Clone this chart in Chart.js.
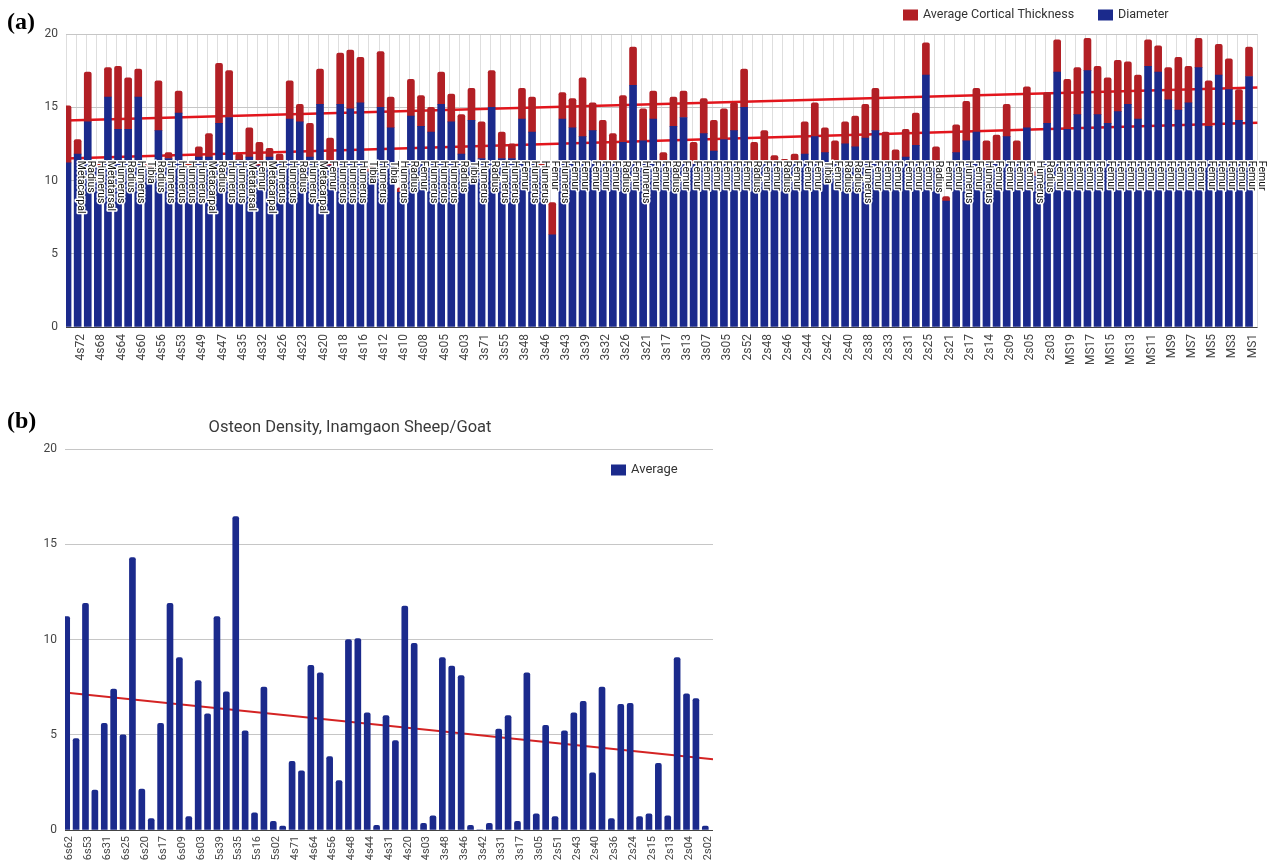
<!DOCTYPE html>
<html>
<head>
<meta charset="utf-8">
<script src="https://cdn.jsdelivr.net/npm/chart.js@4.4.0/dist/chart.umd.min.js"></script>
<style>
  body { margin: 0; background: #fff; width: 1274px; height: 864px; position: relative; overflow: hidden; }
  .panel { position: absolute; font-family: "Liberation Serif", serif; font-weight: bold; font-size: 24px; line-height: 1; color: #000; }
  #wrapA { position: absolute; left: 0; top: 0; width: 1274px; height: 372px; }
  #wrapB { position: absolute; left: 0; top: 410px; width: 740px; height: 454px; }
</style>
</head>
<body>
<div id="wrapA"><canvas id="chart-a"></canvas></div>
<div id="wrapB"><canvas id="chart-b"></canvas></div>
<div class="panel" style="left:7px; top:9px">(a)</div>
<div class="panel" style="left:7px; top:408px">(b)</div>
<script>
/* ---- data (a) ---- */
const samplesA = [
  '4s73','4s72','4s70','4s68','4s66','4s64','4s62','4s60','4s58','4s56',
  '4s55','4s53','4s51','4s49','4s48','4s47','4s40','4s35','4s33','4s32',
  '4s28','4s26','4s24','4s23','4s21','4s20','4s19','4s18','4s17','4s16',
  '4s14','4s12','4s11','4s10','4s09','4s08','4s06','4s05','4s04','4s03',
  '4s01','3s71','3s62','3s55','3s50','3s48','3s47','3s46','3s45','3s43',
  '3s40','3s39','3s35','3s32','3s28','3s26','3s24','3s21','3s19','3s17',
  '3s15','3s13','3s10','3s07','3s06','3s05','3s02','2s52','2s50','2s48',
  '2s47','2s46','2s45','2s44','2s43','2s42','2s41','2s40','2s39','2s38',
  '2s35','2s33','2s32','2s31','2s27','2s25','2s23','2s21','2s19','2s17',
  '2s15','2s14','2s11','2s09','2s07','2s05','2s04','2s03','MS20','MS19',
  'MS18','MS17','MS16','MS15','MS14','MS13','MS12','MS11','MS10','MS9',
  'MS8','MS7','MS6','MS5','MS4','MS3','MS2','MS1'
];
const diameterA = [
  11.2, 11.8, 14.0, 10.9, 15.7, 13.5, 13.5, 15.7, 10.8, 13.4,
  11.5, 14.6, 10.9, 11.6, 11.6, 13.9, 14.3, 11.4, 11.6, 11.0,
  11.6, 11.3, 14.2, 14.0, 11.6, 15.2, 11.0, 15.2, 14.9, 15.3,
  10.6, 15.0, 13.6, 9.2, 14.4, 13.7, 13.3, 15.2, 14.0, 11.8,
  14.1, 11.5, 15.0, 11.5, 11.5, 14.2, 13.3, 10.9, 6.3, 14.2,
  13.6, 13.0, 13.4, 11.1, 11.1, 12.6, 16.5, 12.7, 14.2, 11.1,
  13.7, 14.3, 11.1, 13.2, 12.0, 12.8, 13.4, 15.0, 11.1, 11.1,
  11.1, 11.1, 11.1, 11.8, 13.0, 11.9, 11.1, 12.5, 12.3, 12.9,
  13.4, 11.1, 11.1, 11.6, 12.4, 17.2, 11.1, 8.6, 11.9, 12.7,
  13.3, 11.1, 11.1, 13.0, 11.1, 13.6, 10.3, 13.9, 17.4, 13.5,
  14.5, 17.5, 14.5, 13.9, 14.7, 15.2, 14.2, 17.8, 17.4, 15.5,
  14.8, 15.3, 17.7, 13.7, 17.2, 16.2, 14.1, 17.1
];
const thicknessA = [
  3.9, 1.0, 3.4, 0.3, 2.0, 4.3, 3.5, 1.9, 0.3, 3.4,
  0.4, 1.5, 0.3, 0.7, 1.6, 4.1, 3.2, 0.4, 2.0, 1.6,
  0.6, 0.5, 2.6, 1.2, 2.3, 2.4, 1.9, 3.5, 4.0, 3.1,
  0.35, 3.8, 2.1, 0.3, 2.5, 2.1, 1.7, 2.2, 1.9, 2.7,
  2.2, 2.5, 2.5, 1.8, 1.0, 2.1, 2.4, 0.3, 2.2, 1.8,
  2.0, 4.0, 1.9, 3.0, 2.1, 3.2, 2.6, 2.2, 1.9, 0.8,
  2.0, 1.8, 1.5, 2.4, 2.1, 2.1, 1.9, 2.6, 1.5, 2.3,
  0.6, 0.35, 0.7, 2.2, 2.3, 1.7, 1.6, 1.5, 2.1, 2.3,
  2.9, 2.2, 1.0, 1.9, 2.2, 2.2, 1.2, 0.3, 1.9, 2.7,
  3.0, 1.6, 2.0, 2.2, 1.6, 2.8, 0.3, 2.1, 2.2, 3.4,
  3.2, 2.2, 3.3, 3.1, 3.5, 2.9, 3.0, 1.8, 1.8, 2.2,
  3.6, 2.5, 2.0, 3.1, 2.1, 2.1, 2.1, 2.0
];
const bonesA = [
  'Metacarpal','Radius','Humerus','Metatarsal','Humerus','Radius','Humerus','Tibia','Radius','Humerus',
  'Humerus','Humerus','Humerus','Metacarpal','Radius','Humerus','Humerus','Metatarsal','Femur','Metacarpal',
  'Humerus','Humerus','Radius','Humerus','Metacarpal','Femur','Humerus','Humerus','Humerus','Tibia',
  'Humerus','Tibia','Humerus','Radius','Femur','Humerus','Humerus','Humerus','Radius','Tibia',
  'Humerus','Radius','Humerus','Humerus','Femur','Humerus','Humerus','Femur','Humerus','Femur',
  'Femur','Femur','Femur','Femur','Radius','Femur','Humerus','Femur','Femur','Radius',
  'Femur','Femur','Femur','Femur','Femur','Femur','Femur','Radius','Femur','Femur',
  'Radius','Femur','Femur','Femur','Tibia','Femur','Radius','Radius','Humerus','Femur',
  'Femur','Femur','Femur','Femur','Femur','Radius','Femur','Femur','Humerus','Femur',
  'Humerus','Femur','Femur','Femur','Femur','Humerus','Radius','Femur','Femur','Femur',
  'Femur','Femur','Femur','Femur','Femur','Femur','Femur','Femur','Femur','Femur',
  'Femur','Femur','Femur','Femur','Femur','Femur','Femur','Femur'
];
// trend line ends, read at the left and right edges of the plot
const trendTotalA = [14.1, 16.35];
const trendDiamA = [11.5, 13.95];

/* ---- data (b) ---- */
const samplesB = [
  '6s62','6s58','6s53','6s47','6s31','6s28','6s25','6s22','6s20','6s19',
  '6s17','6s12','6s09','6s05','6s03','5s44','5s39','5s37','5s35','5s22',
  '5s16','5s09','5s02','4s73','4s71','4s68','4s64','4s60','4s56','4s53',
  '4s48','4s47','4s44','4s35','4s31','4s26','4s20','4s12','4s03','3s55',
  '3s48','3s47','3s46','3s43','3s42','3s39','3s31','3s21','3s17','3s13',
  '3s05','2s52','2s51','2s46','2s43','2s42','2s40','2s38','2s36','2s31',
  '2s24','2s21','2s15','2s14','2s13','2s09','2s04','2s03','2s02'
];
const densityB = [
  11.2, 4.8, 11.9, 2.1, 5.6, 7.4, 5.0, 14.3, 2.15, 0.6,
  5.6, 11.9, 9.05, 0.7, 7.85, 6.1, 11.2, 7.25, 16.45, 5.2,
  0.9, 7.5, 0.45, 0.2, 3.6, 3.1, 8.65, 8.25, 3.85, 2.6,
  10.0, 10.05, 6.15, 0.25, 6.0, 4.7, 11.75, 9.8, 0.35, 0.75,
  9.05, 8.6, 8.1, 0.25, 0, 0.35, 5.3, 6.0, 0.45, 8.25,
  0.85, 5.5, 0.7, 5.2, 6.15, 6.75, 3.0, 7.5, 0.6, 6.6,
  6.65, 0.7, 0.85, 3.5, 0.75, 9.05, 7.15, 6.9, 0.2
];
const trendB = [7.22, 3.71];

const blue = '#1b2a8c';
const red = '#b21f25';
const trendRed = '#e2151c';
Chart.defaults.font.family = 'Roboto';
Chart.defaults.animation = false;

const gridY = c => (c.tick && c.tick.value === 0) ? '#444' : '#c6c6c6';

/* bone names, rotated, sitting just right of each bar */
const boneLabels = {
  id: 'boneLabels',
  afterDatasetsDraw(chart) {
    const x = chart.scales.x, y = chart.scales.y, ctx = chart.ctx;
    const step = x.getPixelForValue(1) - x.getPixelForValue(0);
    const top = y.getPixelForValue(11.35);
    ctx.save();
    ctx.font = '10.5px Roboto';
    ctx.textBaseline = 'middle';
    ctx.textAlign = 'left';
    ctx.lineJoin = 'round';
    bonesA.forEach((b, i) => {
      ctx.save();
      ctx.translate(x.getPixelForValue(i) + step - 1, top);
      ctx.rotate(Math.PI / 2);
      ctx.strokeStyle = '#fff';
      ctx.lineWidth = 3;
      ctx.strokeText(b, 0, 0);
      ctx.fillStyle = '#111';
      ctx.fillText(b, 0, 0);
      ctx.restore();
    });
    ctx.restore();
  }
};

/* legend boxes and title placed like the original sheet chart */
const boxLegend = {
  id: 'boxLegend',
  afterDraw(chart, args, opts) {
    const ctx = chart.ctx;
    ctx.save();
    ctx.textBaseline = 'middle';
    ctx.textAlign = 'left';
    ctx.font = opts.font;
    opts.items.forEach(it => {
      const ds = chart.data.datasets[it.ds];
      ctx.fillStyle = ds.backgroundColor;
      ctx.fillRect(it.x, it.y - 5.5, 15, 11);
      ctx.fillStyle = '#333';
      ctx.fillText(ds.label, it.x + 20, it.y);
    });
    if (opts.title) {
      ctx.font = opts.title.font;
      ctx.textAlign = 'center';
      ctx.fillStyle = '#3a3a3a';
      ctx.fillText(opts.title.text, opts.title.x, opts.title.y);
    }
    ctx.restore();
  }
};

/* Chart (a) */
new Chart(document.getElementById('chart-a'), {
  type: 'bar',
  data: {
    labels: samplesA,
    datasets: [
      { label: 'Diameter', data: diameterA, backgroundColor: blue, stack: 's', barThickness: 7 },
      { label: 'Average Cortical Thickness', data: thicknessA, backgroundColor: red, stack: 's',
        barThickness: 7, borderRadius: { topLeft: 2, topRight: 2 } },
      { type: 'line', label: 'trend total', xAxisID: 'xt', stack: 't1',
        data: [{ x: 0, y: trendTotalA[0] }, { x: 1, y: trendTotalA[1] }],
        borderColor: trendRed, borderWidth: 2.5, pointRadius: 0 },
      { type: 'line', label: 'trend diameter', xAxisID: 'xt', stack: 't2',
        data: [{ x: 0, y: trendDiamA[0] }, { x: 1, y: trendDiamA[1] }],
        borderColor: trendRed, borderWidth: 2.5, pointRadius: 0 }
    ]
  },
  options: {
    responsive: true,
    maintainAspectRatio: false,
    layout: { padding: { top: 34, right: 16, left: 0, bottom: 0 } },
    plugins: {
      legend: { display: false },
      tooltip: { enabled: false },
      boxLegend: {
        font: '12.5px Roboto',
        items: [ { ds: 1, x: 903, y: 15 }, { ds: 0, x: 1098, y: 15 } ]
      }
    },
    scales: {
      x: {
        stacked: true,
        grid: { color: '#dedede', drawTicks: false },
        border: { display: false },
        ticks: {
          autoSkip: false, minRotation: 90, maxRotation: 90, padding: 7,
          color: '#444', font: { size: 12 },
          callback(v, i) { return i % 2 === 1 ? this.getLabelForValue(v) : ''; }
        },
        afterFit(s) { s.height = 45; }
      },
      xt: { type: 'linear', min: 0, max: 1, offset: false, display: false },
      y: {
        stacked: true, min: 0, max: 20,
        ticks: { stepSize: 5, padding: 8, color: '#444', font: { size: 12 } },
        grid: { color: gridY, drawTicks: false },
        border: { display: false },
        afterFit(s) { s.width = 66; }
      }
    }
  },
  plugins: [boneLabels, boxLegend]
});

/* Chart (b) */
new Chart(document.getElementById('chart-b'), {
  type: 'bar',
  data: {
    labels: samplesB,
    datasets: [
      { label: 'Average', data: densityB, backgroundColor: blue,
        barThickness: 6, borderRadius: { topLeft: 2, topRight: 2 } },
      { type: 'line', label: 'trend', xAxisID: 'xt',
        data: [{ x: 0, y: trendB[0] }, { x: 1, y: trendB[1] }],
        borderColor: '#d42323', borderWidth: 2, pointRadius: 0 }
    ]
  },
  options: {
    responsive: true,
    maintainAspectRatio: false,
    layout: { padding: { top: 39, right: 27, left: 0, bottom: 0 } },
    plugins: {
      legend: { display: false },
      tooltip: { enabled: false },
      boxLegend: {
        font: '13px Roboto',
        items: [ { ds: 0, x: 611, y: 60 } ],
        title: { text: 'Osteon Density, Inamgaon Sheep/Goat', x: 350, y: 18, font: '16.5px Roboto' }
      }
    },
    scales: {
      x: {
        grid: { display: false },
        border: { display: false },
        ticks: {
          autoSkip: false, minRotation: 90, maxRotation: 90, padding: -2,
          color: '#444', font: { size: 11 },
          callback(v, i) { return i % 2 === 0 ? this.getLabelForValue(v) : ''; }
        },
        afterFit(s) { s.height = 34; }
      },
      xt: { type: 'linear', min: 0, max: 1, offset: false, display: false },
      y: {
        min: 0, max: 20,
        ticks: { stepSize: 5, padding: 8, color: '#444', font: { size: 12 } },
        grid: { color: gridY, drawTicks: false },
        border: { display: false },
        afterFit(s) { s.width = 65; }
      }
    }
  },
  plugins: [boxLegend]
});
</script>
</body>
</html>
